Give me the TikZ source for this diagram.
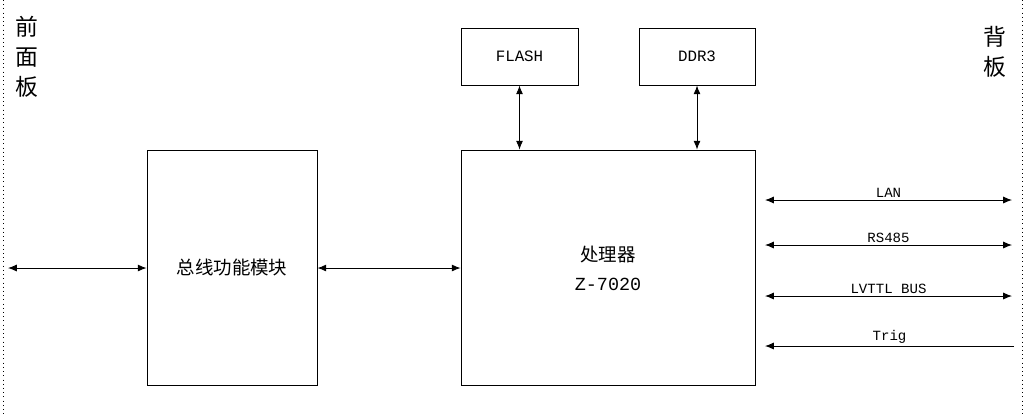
\documentclass[tikz,border=0pt]{standalone}
\usepackage{fontspec}
\setmainfont{Liberation Mono}
\newfontfamily\cjk{Noto Sans CJK SC}
\usetikzlibrary{arrows.meta}
\begin{document}
\begin{tikzpicture}[x=0.02cm,y=-0.02cm,
  blk/.style={draw,line width=0.5pt,inner sep=0pt},
  conn/.style={line width=0.5pt,{Latex[length=5pt,width=4pt]}-{Latex[length=5pt,width=4pt]}},
  conn1/.style={line width=0.5pt,-{Latex[length=5pt,width=4pt]}},
  lbl/.style={font=\fontsize{8}{9}\selectfont,above,inner sep=1pt},
  side/.style={font=\cjk\fontsize{13}{17}\selectfont,align=center,inner sep=0pt}]
\useasboundingbox (0,0) rectangle (1027,414);
\draw[dotted] (3,0) -- (3,414);
\draw[dotted] (1022,0) -- (1022,414);
\node[side] (fp) at (27,57) {前\\面\\板};
\node[side] (bp) at (995,52) {背\\板};
\node[blk,minimum width=170*0.02cm,minimum height=235*0.02cm,font=\cjk\fontsize{10.5}{12}\selectfont] (mod) at (232,267.5) {总线功能模块};
\node[blk,minimum width=294*0.02cm,minimum height=235*0.02cm] (cpu) at (608,267.5) {};
\node[font=\cjk\fontsize{10.5}{12}\selectfont] (cpu1) at (608,255) {处理器};
\node[font=\fontsize{10.5}{12}\selectfont] (cpu2) at (608,284) {Z-7020};
\node[blk,minimum width=117*0.02cm,minimum height=57*0.02cm,font=\fontsize{9}{10}\selectfont] (flash) at (519.5,56.5) {FLASH};
\node[blk,minimum width=116*0.02cm,minimum height=57*0.02cm,font=\fontsize{9}{10}\selectfont] (ddr) at (697,56.5) {DDR3};
\draw[conn] (flash.south) -- (flash.south|-cpu.north);
\draw[conn] (ddr.south) -- (ddr.south|-cpu.north);
\coordinate (lf) at (8,268);
\draw[conn] (lf) -- (mod.west|-lf);
\draw[conn] (mod.east|-lf) -- (cpu.west|-lf);
\coordinate (a1) at (765,200); \coordinate (b1) at (1012,200);
\coordinate (a2) at (765,245); \coordinate (b2) at (1012,245);
\coordinate (a3) at (765,296); \coordinate (b3) at (1012,296);
\coordinate (a4) at (765,346); \coordinate (b4) at (1014,346);
\draw[conn] (a1) -- node[lbl] (l1) {LAN} (b1);
\draw[conn] (a2) -- node[lbl] (l2) {RS485} (b2);
\draw[conn] (a3) -- node[lbl] (l3) {LVTTL BUS} (b3);
\draw[conn1] (b4) -- node[lbl] (l4) {Trig} (a4);
\end{tikzpicture}
\end{document}
